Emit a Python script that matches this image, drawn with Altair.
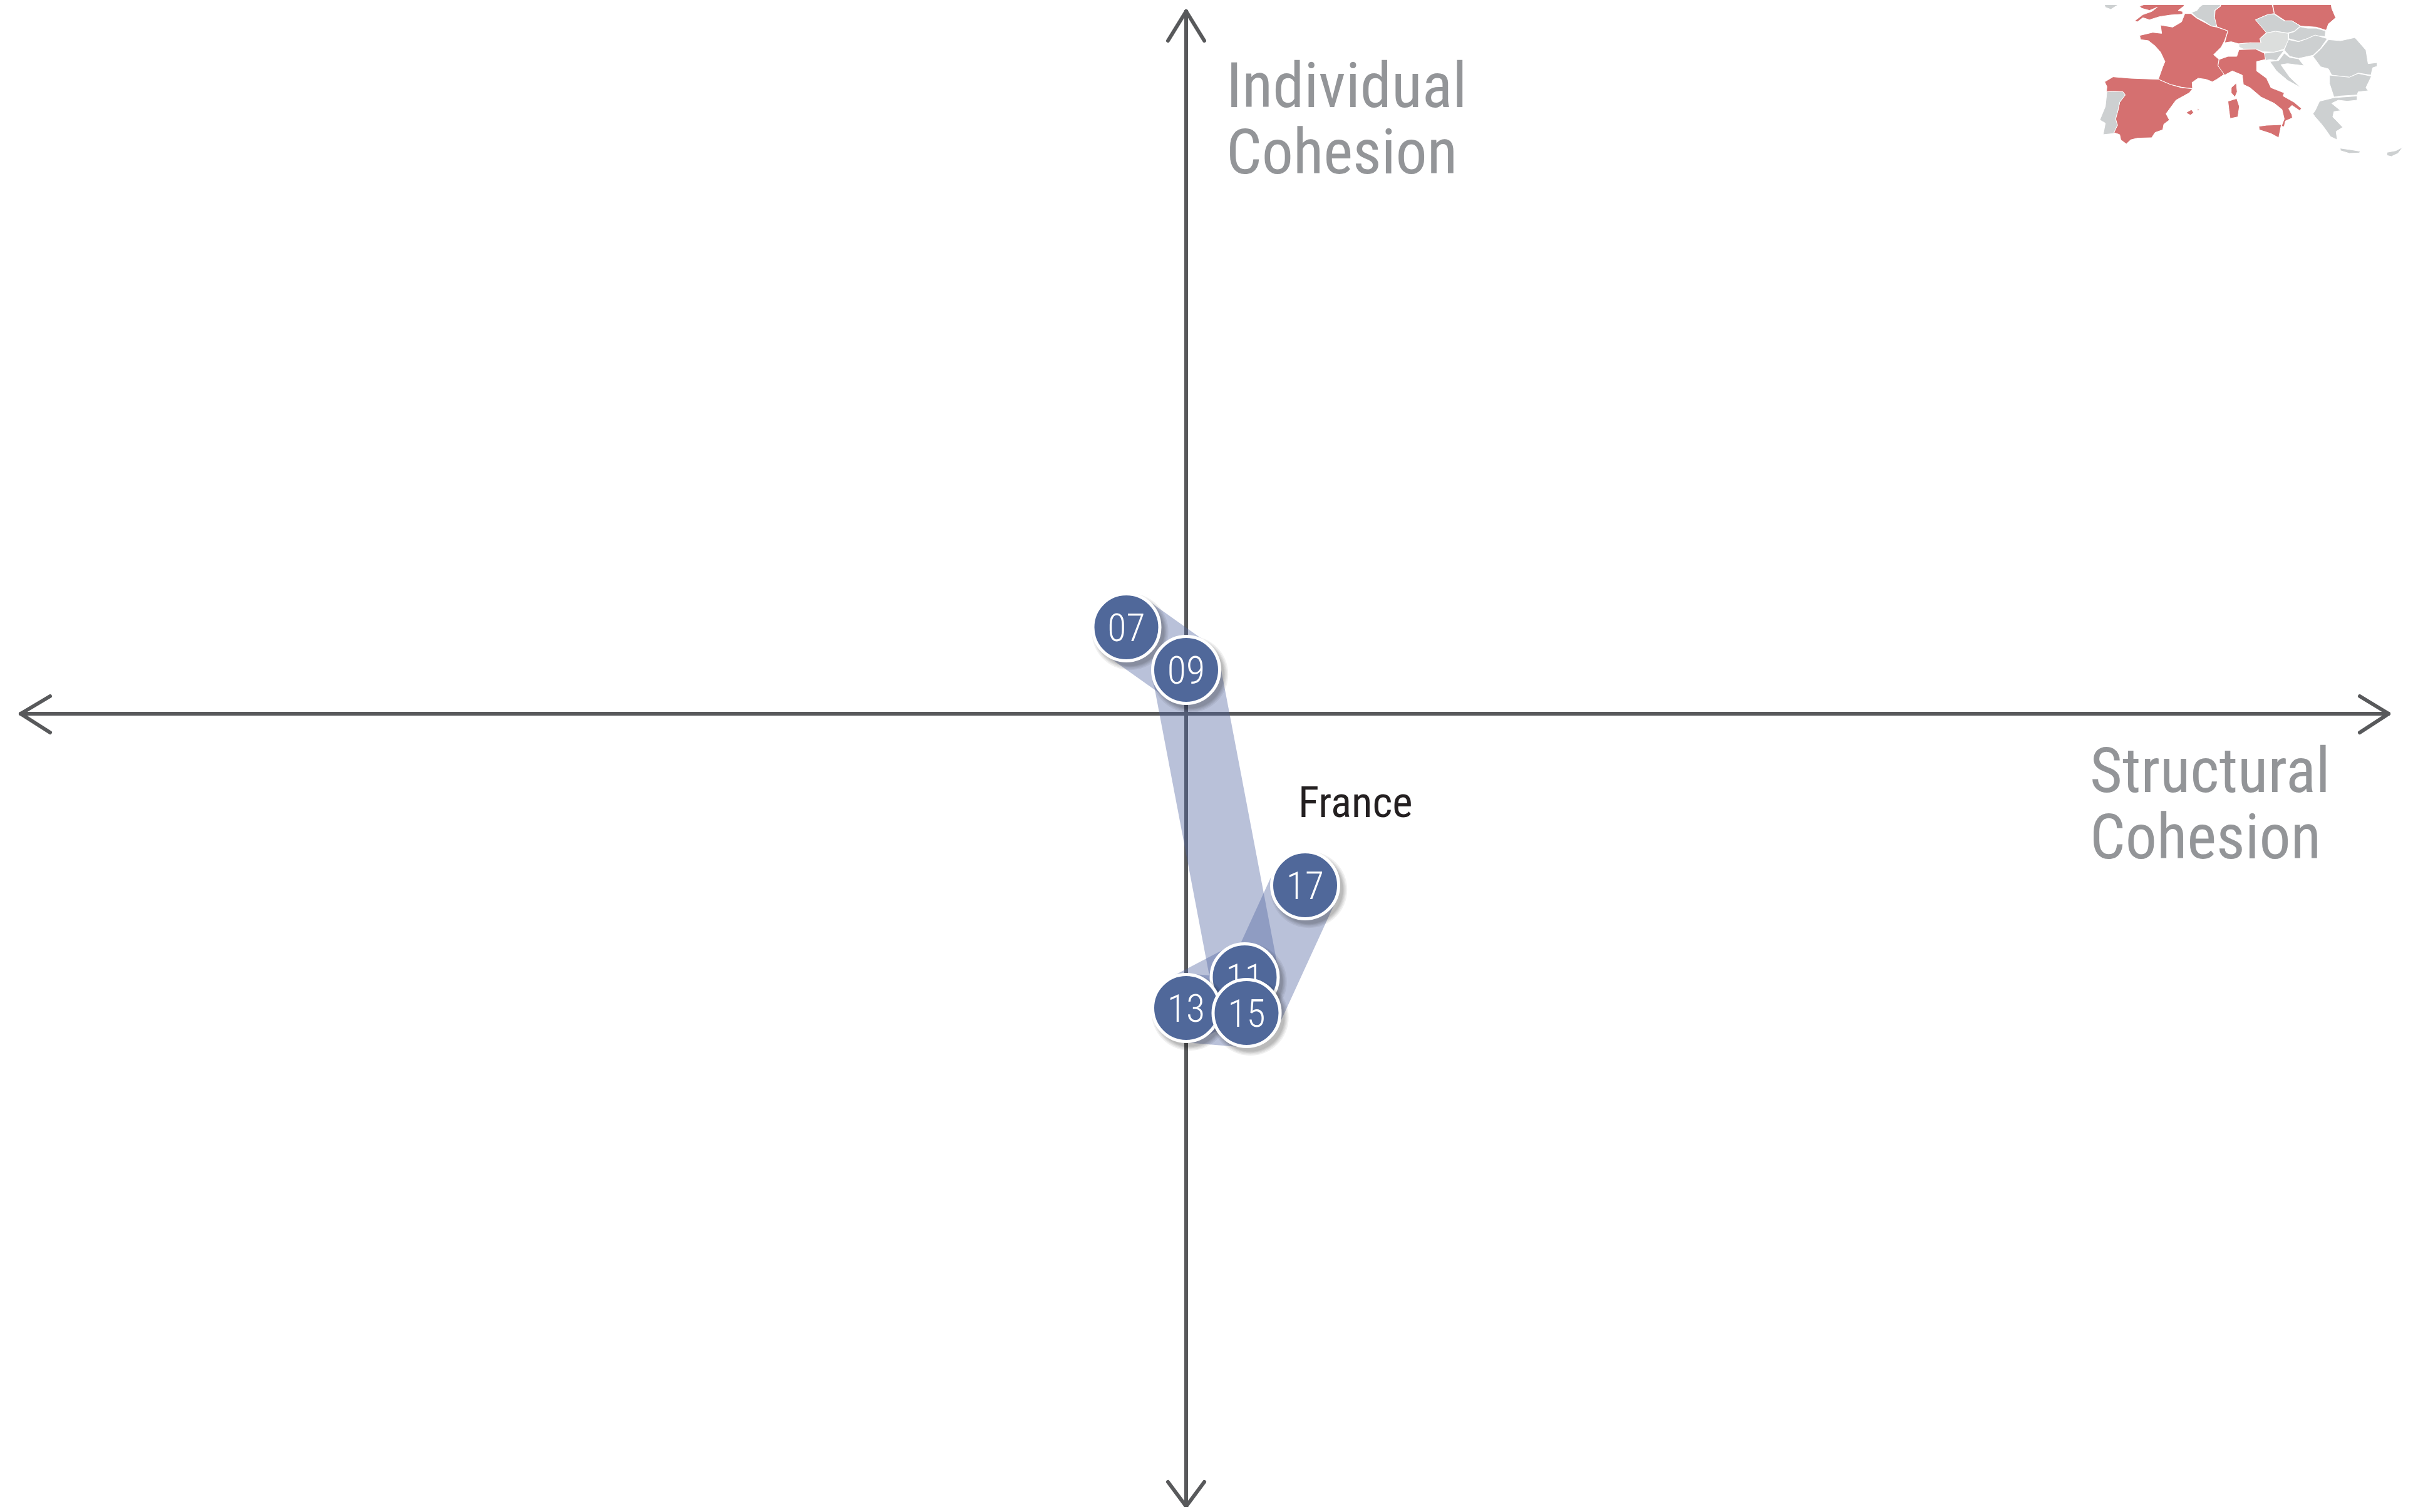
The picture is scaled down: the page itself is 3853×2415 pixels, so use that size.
import altair as alt

W, H = 3853, 2415
FONT = "Roboto Condensed"

years = ["07", "09", "11", "13", "15", "17"]
px = [1798.5, 1894, 1987.5, 1894, 1990.5, 2084]
py = [1002, 1070, 1561, 1610, 1618, 1414]

axis_x = 1894
axis_y = 1140
arrow_segments = [
    (33, axis_y, 3814, axis_y), (axis_x, 18, axis_x, 2406),
    (33, axis_y, 80, 1112), (33, axis_y, 80, 1170),
    (3814, axis_y, 3768, 1112), (3814, axis_y, 3768, 1170),
    (axis_x, 18, 1865, 65), (axis_x, 18, 1923, 65),
    (axis_x, 2406, 1865, 2367), (axis_x, 2406, 1923, 2367),
]

labels = [
    ("Individual", 1958, 171, 101, "#939598"),
    ("Cohesion", 1958, 277, 100, "#939598"),
    ("Structural", 3337, 1265, 100, "#939598"),
    ("Cohesion", 3337, 1371, 100, "#939598"),
    ("France", 2073, 1305, 69, "#231f20"),
]

shadow_sizes = [15000, 14000, 13200, 12500, 11900]

RED, GRAY, LIGHT = "#d57070", "#cdd0d1", "#dcdedd"
map_regions = [
    (GRAY, [(170,20),(215,10),(255,5),(300,0),(270,12),(230,25),(200,45),(175,35)]),
    (RED, [(360,0),(540,0),(530,30),(505,50),(525,55),(525,68),(470,72),(420,80),(375,95),(345,85),(320,105),(308,100),(345,70),(385,55),(410,35),(375,50),(340,40),(330,30),(355,20)]),
    (GRAY, [(565,60),(590,50),(600,35),(625,15),(640,0),(700,0),(695,30),(670,50),(670,80),(680,100),(675,128),(655,125),(620,100),(590,85)]),
    (RED, [(535,65),(562,65),(590,88),(620,105),(655,125),(680,130),(730,148),(715,195),(700,225),(665,262),(690,285),(685,315),(715,355),(680,380),(660,392),(630,380),(595,375),(568,395),(570,425),(520,418),(470,405),(415,380),(435,320),(445,295),(425,250),(400,220),(370,195),(335,190),(330,170),(390,155),(430,160),(425,120),(480,130),(520,105)]),
    (RED, [(700,0),(925,0),(940,65),(910,70),(855,95),(905,155),(875,185),(880,208),(830,205),(780,210),(745,200),(715,205),(730,148),(680,128),(670,85),(672,50),(697,30)]),
    (RED, [(930,0),(1195,0),(1200,40),(1218,85),(1185,115),(1175,145),(1130,130),(1060,125),(1020,100),(990,100),(940,65)]),
    (GRAY, [(855,95),(915,68),(940,68),(985,100),(1020,100),(1058,125),(1030,150),(1000,158),(945,150),(905,158)]),
    (GRAY, [(1058,128),(1090,135),(1130,135),(1172,148),(1170,175),(1120,170),(1090,185),(1050,198),(1005,185),(1005,160),(1030,152)]),
    (LIGHT, [(945,150),(1003,160),(1003,195),(985,235),(940,250),(890,248),(855,235),(800,235),(780,225),(780,210),(830,205),(880,205),(875,185),(905,158)]),
    (GRAY, [(1005,190),(1050,200),(1090,185),(1125,168),(1180,185),(1150,230),(1115,265),(1050,280),(1010,270),(985,240),(1000,200)]),
    (GRAY, [(1185,190),(1240,195),(1305,180),(1330,210),(1355,240),(1365,305),(1405,300),(1405,318),(1385,325),(1378,360),(1320,350),(1280,370),(1200,360),(1185,330),(1150,320),(1115,270),(1150,235)]),
    (GRAY, [(1190,360),(1280,370),(1320,352),(1380,365),(1355,420),(1365,435),(1320,440),(1315,455),(1240,460),(1210,465),(1190,400)]),
    (GRAY, [(1145,485),(1210,468),(1315,460),(1315,480),(1270,485),(1230,480),(1200,495),(1240,530),(1210,535),(1205,560),(1250,610),(1220,630),(1225,670),(1195,655),(1165,610),(1150,590),(1125,560),(1115,545),(1125,530)]),
    (GRAY, [(1238,710),(1290,718),(1330,725),(1325,733),(1280,735),(1240,722)]),
    (GRAY, [(1450,730),(1490,722),(1522,705),(1500,735),(1470,750),(1450,745)]),
    (GRAY, [(895,255),(940,250),(985,240),(950,290),(920,285),(900,290)]),
    (GRAY, [(960,290),(985,255),(1010,275),(1050,282),(1075,315),(1000,305),(970,310),(1010,370),(1060,420),(1000,385),(950,340),(920,295)]),
    (RED, [(780,238),(855,235),(895,255),(900,285),(860,295),(860,340),(905,375),(925,420),(985,445),(980,460),(1030,490),(1063,520),(1055,530),(1020,505),(1005,520),(1020,550),(1022,565),(990,580),(985,607),(972,605),(985,570),(975,525),(940,495),(880,465),(830,420),(800,405),(795,360),(750,340),(715,360),(685,315),(690,285),(730,270),(770,270)]),
    (RED, [(768,398),(772,440),(762,465),(745,445),(745,420)]),
    (RED, [(730,485),(770,472),(782,510),(775,560),(740,568),(735,530)]),
    (RED, [(870,605),(905,600),(972,597),(960,660),(925,640),(872,622)]),
    (RED, [(540,540),(565,525),(575,540),(560,552)]),
    (RED, [(590,520),(602,525),(595,530)]),
    (RED, [(172,392),(210,368),(290,375),(415,380),(470,405),(520,420),(570,425),(555,445),(495,480),(450,545),(465,575),(440,595),(435,622),(400,635),(385,660),(320,662),(290,670),(270,690),(245,670),(240,645),(213,635),(230,600),(220,570),(232,530),(240,490),(265,455),(255,440),(205,438),(180,440),(182,415)]),
    (GRAY, [(182,440),(205,438),(255,440),(265,455),(240,490),(232,530),(222,570),(230,600),(212,640),(165,645),(175,590),(150,575),(175,510)]),
]

MARGIN = 8
x_enc = alt.X("x:Q", axis=None, scale=alt.Scale(domain=[MARGIN, W - MARGIN], nice=False, zero=False))
y_enc = alt.Y("y:Q", axis=None, scale=alt.Scale(domain=[H - MARGIN, MARGIN], nice=False, zero=False))

MAP_KX = 553 / 1568
MAP_KY = 1 / 3
features = []
for colour, pts in map_regions:
    ring = [[3300 + a * MAP_KX, b * MAP_KY] for a, b in pts]
    ring.append(ring[0])
    features.append({"type": "Feature", "properties": {"c": colour},
                     "geometry": {"type": "Polygon", "coordinates": [ring]}})

map_layer = alt.Chart(alt.Data(values=features)).mark_geoshape(
    stroke="white", strokeWidth=1
).encode(
    fill=alt.Fill("properties.c:N", scale=None, legend=None)
).project(type="identity", scale=1, translate=[-MARGIN, -MARGIN])

axes_layer = alt.Chart(alt.Data(values=[
    {"x": a, "y": b, "x2": c, "y2": d} for a, b, c, d in arrow_segments
])).mark_rule(color="#58595b", strokeWidth=6, strokeCap="round").encode(
    x=x_enc, y=y_enc, x2="x2:Q", y2="y2:Q"
)

band_layer = alt.Chart(alt.Data(values=[
    {"x": px[i], "y": py[i], "x2": px[i + 1], "y2": py[i + 1]} for i in range(len(years) - 1)
])).mark_rule(color="#5064a0", opacity=0.4, strokeWidth=110, strokeCap="butt").encode(
    x=x_enc, y=y_enc, x2="x2:Q", y2="y2:Q"
)

text_layers = [
    alt.Chart(alt.Data(values=[{"x": x, "y": y, "t": t}])).mark_text(
        align="left", baseline="alphabetic", font=FONT, fontSize=size, color=col
    ).encode(x=x_enc, y=y_enc, text="t:N")
    for t, x, y, size, col in labels
]

point_layers = []
for yr, x, y in zip(years, px, py):
    shadow = alt.Chart(alt.Data(values=[{"x": x, "y": y, "s": s} for s in shadow_sizes])).mark_circle(
        color="#000000", opacity=0.06, xOffset=6, yOffset=7
    ).encode(x=x_enc, y=y_enc, size=alt.Size("s:Q", scale=None, legend=None))
    one = alt.Data(values=[{"x": x, "y": y, "t": yr}])
    disc = alt.Chart(one).mark_point(
        shape="circle", filled=True, fill="#50689a", fillOpacity=1, stroke="white",
        strokeWidth=5, strokeOpacity=1, size=11449
    ).encode(x=x_enc, y=y_enc)
    lab = alt.Chart(one).mark_text(
        font=FONT, fontSize=62, fontWeight=300, color="white", align="center", baseline="middle", dy=3
    ).encode(x=x_enc, y=y_enc, text="t:N")
    point_layers += [shadow, disc, lab]

chart = alt.layer(
    map_layer, axes_layer, band_layer, *text_layers, *point_layers
).resolve_scale(x="shared", y="shared").properties(
    width=W - 2 * MARGIN, height=H - 2 * MARGIN, padding=0,
    autosize=alt.AutoSizeParams(type="none"), background="white"
).configure_view(stroke=None)

chart.save("out.html", embed_options={"renderer": "svg", "actions": False})
